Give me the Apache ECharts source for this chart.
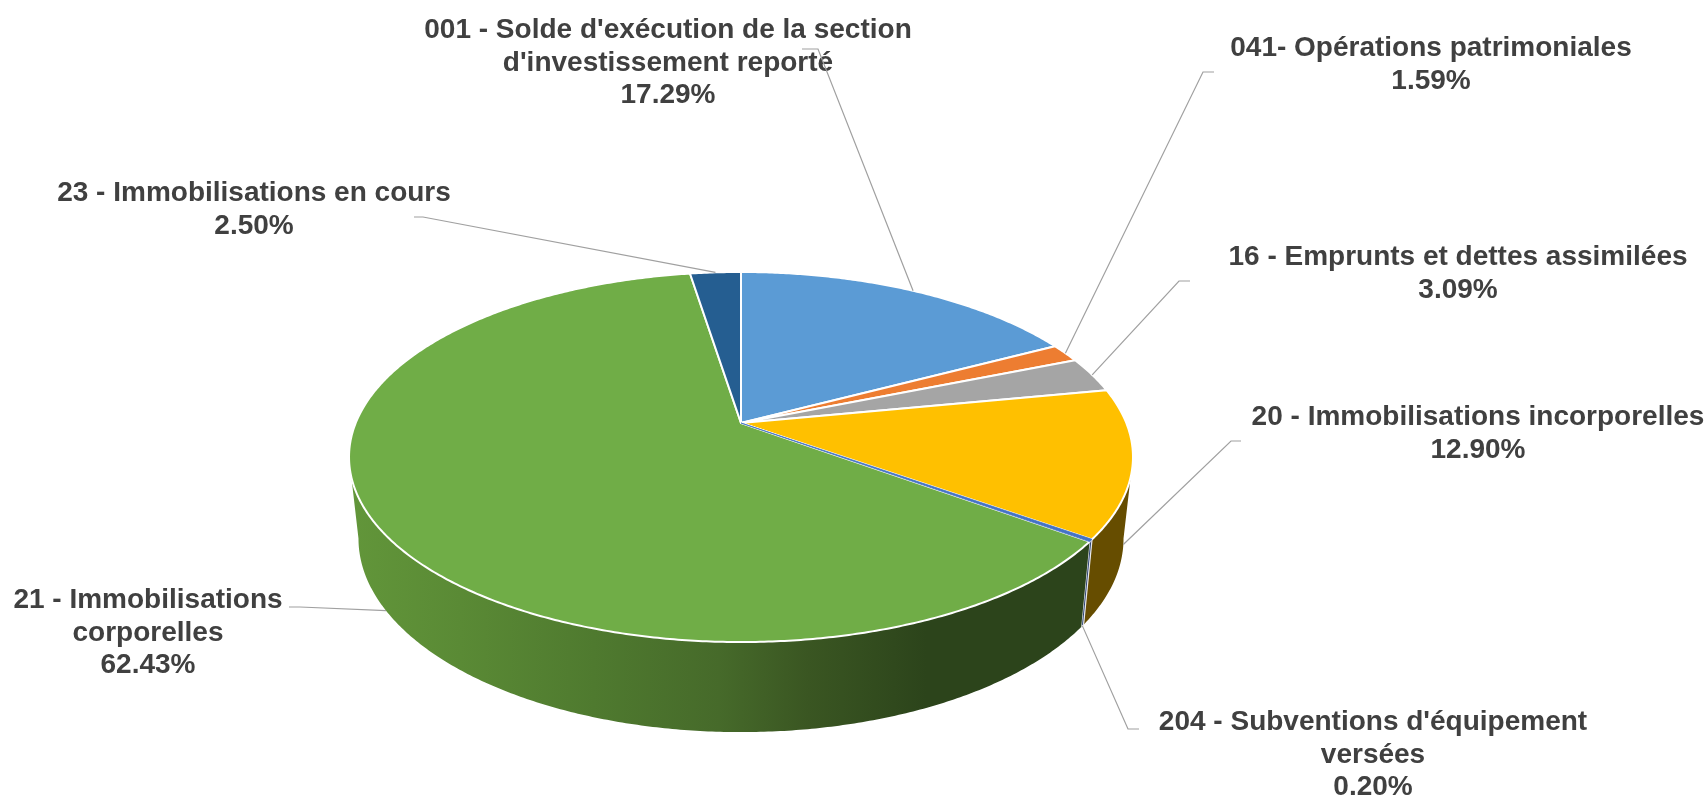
<!DOCTYPE html>
<html>
<head>
<meta charset="utf-8">
<title>Section d'investissement</title>
<style>
  html, body { margin: 0; padding: 0; background: #fff; }
  #chart { width: 1708px; height: 795px; }
</style>
<script src="https://cdn.jsdelivr.net/npm/echarts@6/dist/echarts.min.js"></script>
</head>
<body>
<div id="chart"></div>
<script>
const categories = [
  "001 - Solde d'exécution de la section\nd'investissement reporté",
  '041- Opérations patrimoniales',
  '16 - Emprunts et dettes assimilées',
  '20 - Immobilisations incorporelles',
  "204 - Subventions d'équipement\nversées",
  '21 - Immobilisations\ncorporelles',
  '23 - Immobilisations en cours'
]
const values = [17.29, 1.59, 3.09, 12.90, 0.20, 62.43, 2.50]

const topColors = ['#5b9bd5', '#ed7d31', '#a5a5a5', '#ffc000', '#4472c4', '#70ad47', '#255e91']
const wallColors = ['#2e4f6c', '#773f18', '#535353', '#664d00', '#2d4374', null, '#133049']
const fontColor = '#404040'
const leaderColor = '#a0a0a0'

// label centre, then the leader line's elbow and end
const labelCenters = [[668, 63], [1431, 65], [1458, 274], [1478, 434], [1373, 755], [148, 633], [254, 210]]
const leaderElbows = [[818, 49], [1203, 72], [1179, 281], [1231, 441], [1128, 729], [300, 607], [423, 217]]
const leaderEnds = [[802, 49], [1214, 72], [1190, 281], [1241, 441], [1139, 729], [289, 607], [414, 217]]

// perspective projection of the two disks, fitted on the reference
const perspective = 0.1838
const topDisk = { cx: 741, cy: 423, a: 385.3, b: 178.8 }
const bottomDisk = { cx: 741, cy: 503, a: 376, b: 187 }

const total = values.reduce((sum, v) => sum + v, 0)
const starts = values.map((v, i) => values.slice(0, i).reduce((sum, x) => sum + x, 0) / total * 360)
const ends = starts.map((s, i) => s + values[i] / total * 360)

// the wall is only seen between the two tangents of the rim
const wallFrom = Math.acos(-perspective) * 180 / Math.PI
const wallTo = 360 - wallFrom

function project (disk, deg) {
  const rad = deg * Math.PI / 180
  const u = Math.sin(rad)
  const v = Math.cos(rad)
  const w = 1 + perspective * v
  return [disk.cx + disk.a * u / w, disk.cy - disk.b * v / w]
}

function arcPoints (disk, from, to) {
  const steps = Math.max(2, Math.ceil((to - from) / 0.5))
  const points = []
  for (let i = 0; i <= steps; i++) {
    points.push(project(disk, from + (to - from) * i / steps))
  }
  return points
}

const greenWall = new echarts.graphic.LinearGradient(0, 0, 1, 0, [
  { offset: 0, color: '#62963a' },
  { offset: 0.15, color: '#5a8a35' },
  { offset: 0.33, color: '#4f7a2f' },
  { offset: 0.5, color: '#466a2a' },
  { offset: 0.62, color: '#3a5622' },
  { offset: 0.78, color: '#2c441b' },
  { offset: 1, color: '#2c441b' }
])

function renderWall (params, api) {
  const i = api.value(0)
  const from = Math.max(starts[i], wallFrom)
  const to = Math.min(ends[i], wallTo)
  if (to <= from) return null
  const points = arcPoints(topDisk, from, to).concat(arcPoints(bottomDisk, from, to).reverse())
  const thin = values[i] < 1
  return {
    type: 'polygon',
    shape: { points },
    style: {
      fill: wallColors[i] || greenWall,
      stroke: thin ? '#e8e8ec' : null,
      lineWidth: thin ? 1.2 : 0
    }
  }
}

function renderTop (params, api) {
  const i = api.value(0)
  const apex = [topDisk.cx, topDisk.cy]
  // the thin slice goes over its neighbours' borders, or it would vanish under them
  const thin = values[i] < 1
  return {
    type: 'polygon',
    z2: thin ? 5 : 0,
    shape: { points: [apex].concat(arcPoints(topDisk, starts[i], ends[i])) },
    style: { fill: topColors[i], stroke: thin ? topColors[i] : '#fff', lineWidth: thin ? 0.8 : 2, lineJoin: 'round' }
  }
}

function renderLabel (params, api) {
  const i = api.value(0)
  const mid = (starts[i] + ends[i]) / 2
  const onWall = mid > wallFrom && mid < wallTo
  const anchor = project(onWall ? bottomDisk : topDisk, mid)
  return {
    type: 'group',
    children: [
      {
        type: 'text',
        style: {
          x: labelCenters[i][0],
          y: labelCenters[i][1],
          text: categories[i] + '\n' + api.value(1).toFixed(2) + '%',
          align: 'center',
          verticalAlign: 'middle',
          fill: fontColor,
          font: 'bold 28px "Liberation Sans", Arial, sans-serif',
          lineHeight: 32.7
        }
      },
      {
        type: 'polyline',
        shape: { points: [anchor, leaderElbows[i], leaderEnds[i]] },
        style: { fill: null, stroke: leaderColor, lineWidth: 1.2 }
      }
    ]
  }
}

const seriesData = values.map((v, i) => [i, v])
const chart = echarts.init(document.getElementById('chart'))
chart.setOption({
  backgroundColor: '#fff',
  animation: false,
  series: [
    { type: 'custom', coordinateSystem: 'none', z: 1, silent: true, renderItem: renderWall, data: seriesData },
    { type: 'custom', coordinateSystem: 'none', z: 2, silent: true, renderItem: renderTop, data: seriesData },
    { type: 'custom', coordinateSystem: 'none', z: 3, silent: true, renderItem: renderLabel, data: seriesData }
  ]
})
</script>
</body>
</html>
